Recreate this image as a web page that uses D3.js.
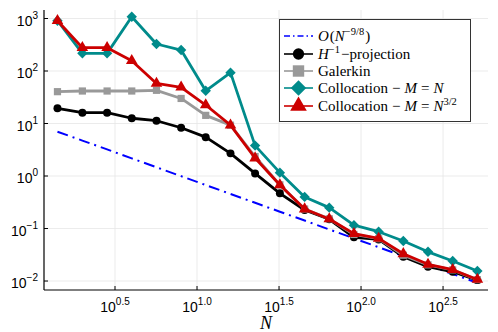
<!DOCTYPE html>
<html>
<head>
<meta charset="utf-8">
<script src="https://cdn.jsdelivr.net/npm/d3@7"></script>
<style>
  body { margin: 0; background: #fff; }
  svg { display: block; }
</style>
</head>
<body>
<svg id="chart" width="498" height="332"></svg>
<script>
// problem sizes
const sizes = [1.41, 2, 2.83, 4, 5.66, 8, 11.3, 16, 22.6, 32, 45.3, 64, 90.5, 128, 181, 256, 362, 512];

// reference rate O(N^-9/8)
const rate = [6.98, 4.73, 3.21, 2.17, 1.47, 0.994, 0.673, 0.456, 0.309, 0.209, 0.142, 0.0959, 0.0649, 0.044, 0.0298, 0.0201, 0.0136, 0.00923];

// errors
const projection = [19.5, 16.1, 16.1, 12.6, 11.3, 8.3, 5.5, 2.7, 1.12, 0.468, 0.225, 0.15, 0.068, 0.062, 0.029, 0.0187, 0.015, 0.0104];
const galerkin = [40.4, 41.6, 41.6, 41.6, 42.9, 30, 14.3, 9.3, 2.35, 0.68, 0.235, 0.153, 0.077, 0.064, 0.031, 0.0203, 0.0163, 0.0106];
const collocN = [908, 217, 217, 1082, 327, 251, 42, 93, 3.8, 1.16, 0.4, 0.25, 0.116, 0.087, 0.058, 0.036, 0.024, 0.0155];
const collocN32 = [908, 278, 278, 157, 58, 49, 22.5, 9.3, 2.2, 0.675, 0.235, 0.152, 0.08, 0.065, 0.033, 0.0208, 0.0164, 0.0107];

const xTicks = [0.5, 1.0, 1.5, 2.0, 2.5];
const yTicks = [-2, -1, 0, 1, 2, 3];

const sansFont = '"Liberation Sans", Arial, sans-serif';
const serifFont = '"Times New Roman", "Liberation Serif", Times, serif';

const svg = d3.select('#chart');

// plot area
const plotLeft = 44, plotRight = 488, plotTop = 10, plotBottom = 290;

const x = d3.scaleLog()
  .domain([Math.pow(10, 0.0671), Math.pow(10, 2.774)])
  .range([plotLeft, plotRight]);

const y = d3.scaleLog()
  .domain([Math.pow(10, -2.171), Math.pow(10, 3.162)])
  .range([plotBottom, plotTop]);

// square rotated 45deg, like the GR diamond
const symbolRhomb = {
  draw(context, size) {
    const r = Math.sqrt(size / 2);
    context.moveTo(0, -r);
    context.lineTo(r, 0);
    context.lineTo(0, r);
    context.lineTo(-r, 0);
    context.closePath();
  }
};

// grid
svg.append('g')
  .selectAll('line')
  .data(xTicks)
  .join('line')
  .attr('x1', d => x(Math.pow(10, d)))
  .attr('x2', d => x(Math.pow(10, d)))
  .attr('y1', plotTop)
  .attr('y2', plotBottom)
  .attr('stroke', '#e6e6e6')
  .attr('stroke-width', 0.8);

svg.append('g')
  .selectAll('line')
  .data(yTicks)
  .join('line')
  .attr('x1', plotLeft)
  .attr('x2', plotRight)
  .attr('y1', d => y(Math.pow(10, d)))
  .attr('y2', d => y(Math.pow(10, d)))
  .attr('stroke', '#e6e6e6')
  .attr('stroke-width', 0.8);

// axes lines
svg.append('line')
  .attr('x1', plotLeft).attr('x2', plotLeft)
  .attr('y1', plotTop).attr('y2', plotBottom)
  .attr('stroke', '#000').attr('stroke-width', 1.2);
svg.append('line')
  .attr('x1', plotLeft).attr('x2', plotRight)
  .attr('y1', plotBottom).attr('y2', plotBottom)
  .attr('stroke', '#000').attr('stroke-width', 1.2);

// inward ticks + labels
xTicks.forEach(t => {
  const px = x(Math.pow(10, t));
  svg.append('line')
    .attr('x1', px).attr('x2', px)
    .attr('y1', plotBottom).attr('y2', plotBottom - 4)
    .attr('stroke', '#000').attr('stroke-width', 1);
  const label = svg.append('text')
    .attr('font-family', sansFont)
    .attr('x', px)
    .attr('y', 312)
    .attr('text-anchor', 'middle')
    .attr('font-size', 14);
  label.append('tspan').text('10');
  label.append('tspan').attr('dy', -7).attr('font-size', 10).text(t.toFixed(1));
});

yTicks.forEach(t => {
  const py = y(Math.pow(10, t));
  svg.append('line')
    .attr('x1', plotLeft).attr('x2', plotLeft + 4)
    .attr('y1', py).attr('y2', py)
    .attr('stroke', '#000').attr('stroke-width', 1);
  const label = svg.append('text')
    .attr('font-family', sansFont)
    .attr('x', 38)
    .attr('y', py + 7)
    .attr('text-anchor', 'end')
    .attr('font-size', 14);
  label.append('tspan').text('10');
  label.append('tspan').attr('dy', -7).attr('font-size', 10)
    .text(t < 0 ? '\u2212' + Math.abs(t) : String(t));
});

// axis label
svg.append('text')
  .attr('x', (plotLeft + plotRight) / 2)
  .attr('y', 329)
  .attr('text-anchor', 'middle')
  .attr('font-family', serifFont)
  .attr('font-style', 'italic')
  .attr('font-size', 18)
  .text('N');

const line = d3.line()
  .x(d => x(d[0]))
  .y(d => y(d[1]));

const series = [
  { values: rate, color: '#0000ff', width: 2, dash: '11,5,2,5', symbol: null },
  { values: projection, color: '#000000', width: 2.8, symbol: d3.symbolCircle, size: 50, legendSize: 100 },
  { values: galerkin, color: '#999999', width: 2.8, symbol: d3.symbolSquare, size: 52, legendSize: 130 },
  { values: collocN, color: '#008b8b', width: 2.8, symbol: symbolRhomb, size: 54, legendSize: 120 },
  { values: collocN32, color: '#cc0000', width: 2.8, symbol: d3.symbolTriangle, size: 58, legendSize: 120 }
];

series.forEach(s => {
  const pts = sizes.map((n, i) => [n, s.values[i]]);
  svg.append('path')
    .datum(pts)
    .attr('fill', 'none')
    .attr('stroke', s.color)
    .attr('stroke-width', s.width)
    .attr('stroke-dasharray', s.dash || null)
    .attr('stroke-linejoin', 'round')
    .attr('d', line);
  if (s.symbol) {
    svg.append('g')
      .selectAll('path')
      .data(pts)
      .join('path')
      .attr('d', d3.symbol().type(s.symbol).size(s.size))
      .attr('transform', d => `translate(${x(d[0])},${y(d[1])})`)
      .attr('fill', s.color);
  }
});

// legend
const legend = svg.append('g');
legend.append('rect')
  .attr('x', 279.5).attr('y', 19.5)
  .attr('width', 191).attr('height', 102)
  .attr('fill', '#fff')
  .attr('stroke', '#333')
  .attr('stroke-width', 1);

const rowY = [36, 54, 71, 88, 106];
series.forEach((s, i) => {
  const cy = rowY[i];
  legend.append('line')
    .attr('x1', 284).attr('x2', 313)
    .attr('y1', cy).attr('y2', cy)
    .attr('stroke', s.color)
    .attr('stroke-width', 1.6)
    .attr('stroke-dasharray', s.dash ? '6,3,1.5,3' : null);
  if (s.symbol) {
    legend.append('path')
      .attr('d', d3.symbol().type(s.symbol).size(s.legendSize))
      .attr('transform', `translate(298.5,${cy})`)
      .attr('fill', s.color);
  }
});

function legendText(i) {
  return legend.append('text')
    .style('font-family', serifFont)
    .attr('font-size', 15)
    .attr('fill', '#000')
    .attr('x', 318)
    .attr('y', rowY[i] + 5);
}

function sup(text, str) {
  text.append('tspan').attr('dy', -6).attr('font-size', 10.5).text(str);
}

let t = legendText(0);
t.append('tspan').attr('font-style', 'italic').text('O');
t.append('tspan').attr('dx', 1).text('(');
t.append('tspan').attr('font-style', 'italic').text('N');
sup(t, '\u22129/8');
t.append('tspan').attr('dy', 6).attr('dx', 1).text(')');

t = legendText(1);
t.append('tspan').attr('font-style', 'italic').text('H');
sup(t, '\u22121');
t.append('tspan').attr('dy', 6).attr('dx', 1).text('\u2212projection');

t = legendText(2);
t.text('Galerkin');

[3, 4].forEach(i => {
  t = legendText(i);
  t.append('tspan').text('Collocation');
  t.append('tspan').attr('dx', 4).text('\u2212');
  t.append('tspan').attr('dx', 4).attr('font-style', 'italic').text('M');
  t.append('tspan').attr('dx', 4).text('=');
  t.append('tspan').attr('dx', 4).attr('font-style', 'italic').text('N');
  if (i === 4) sup(t, '3/2');
});
</script>
</body>
</html>
